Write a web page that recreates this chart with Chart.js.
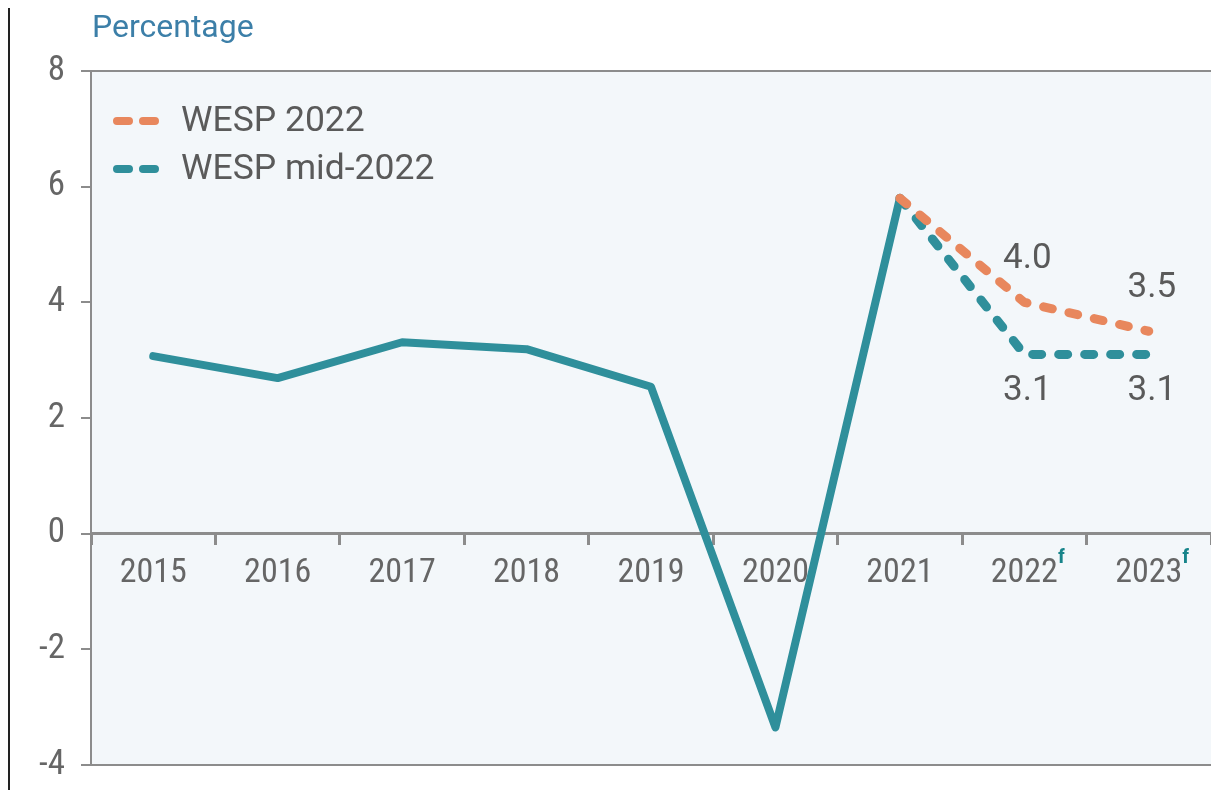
<!DOCTYPE html>
<html>
<head>
<meta charset="utf-8">
<script src="https://cdn.jsdelivr.net/npm/chart.js@4.4.1/dist/chart.umd.min.js"></script>
<style>
  html, body { margin: 0; padding: 0; background: #ffffff; }
  #wrap { position: relative; width: 1211px; height: 790px; overflow: hidden; }
  #edge { position: absolute; left: 8px; top: 8px; width: 2px; height: 782px; background: #222; z-index: 2; }
  canvas { position: absolute; left: 0; top: 0; }
</style>
</head>
<body>
<div id="wrap"><div id="edge"></div><canvas id="growth" width="1211" height="790"></canvas></div>
<script>
// Categories and series
const years = ['2015', '2016', '2017', '2018', '2019', '2020', '2021', '2022', '2023'];
const forecastYears = ['2022', '2023'];
const actualGrowth = [3.07, 2.69, 3.31, 3.19, 2.54, -3.35, 5.8, null, null];
const wesp2022 = [null, null, null, null, null, null, 5.8, 4.0, 3.5];
const wespMid2022 = [null, null, null, null, null, null, 5.8, 3.1, 3.1];
const labelledYears = ['2022', '2023'];
const yTicks = [-4, -2, 0, 2, 4, 6, 8];

const TEAL = '#2f8f9b';
const ORANGE = '#e8875d';
const AXIS_GREY = '#8c8c8c';
const TEXT_GREY = '#5a5a5a';
const CONDENSED = '"Roboto Condensed", "Liberation Sans Narrow", "DejaVu Sans Condensed", "Roboto", sans-serif';
const REGULAR = 'Roboto, "Liberation Sans", sans-serif';
const X_TICK_LEN = 10;
const X_TICK_PAD = 9;

// Light panel behind the plotting area
const panelFill = {
  id: 'panelFill',
  beforeDraw(chart) {
    const { ctx, chartArea: a } = chart;
    ctx.save();
    ctx.fillStyle = '#f3f7fa';
    ctx.fillRect(a.left, a.top, a.right - a.left, a.bottom - a.top);
    ctx.restore();
  }
};

// Unit caption above the value axis
const unitCaption = {
  id: 'unitCaption',
  afterDraw(chart) {
    const { ctx, chartArea: a } = chart;
    ctx.save();
    ctx.font = '32px ' + REGULAR;
    ctx.fillStyle = '#3c7fa8';
    ctx.textAlign = 'left';
    ctx.textBaseline = 'alphabetic';
    ctx.fillText('Percentage', a.left + 1, 37);
    ctx.restore();
  }
};

// Legend drawn inside the panel, top-left
const panelLegend = {
  id: 'panelLegend',
  afterDatasetsDraw(chart) {
    const { ctx } = chart;
    const entries = chart.data.datasets.filter(d => d.inLegend);
    ctx.save();
    entries.forEach((d, i) => {
      const y = 121 + i * 48;
      ctx.strokeStyle = d.borderColor;
      ctx.lineWidth = 8;
      ctx.lineCap = 'round';
      ctx.setLineDash([12, 14]);
      ctx.beginPath();
      ctx.moveTo(117, y);
      ctx.lineTo(160, y);
      ctx.stroke();
      ctx.setLineDash([]);
      ctx.font = '35.5px ' + REGULAR;
      ctx.fillStyle = TEXT_GREY;
      ctx.textAlign = 'left';
      ctx.textBaseline = 'middle';
      ctx.fillText(d.label, 181, y + 1);
    });
    ctx.restore();
  }
};

// Value labels on the forecast points
const pointValues = {
  id: 'pointValues',
  afterDatasetsDraw(chart) {
    const { ctx } = chart;
    ctx.save();
    ctx.font = '35px ' + REGULAR;
    ctx.fillStyle = TEXT_GREY;
    ctx.textAlign = 'center';
    ctx.textBaseline = 'middle';
    chart.data.datasets.forEach((d, di) => {
      if (!d.valueSide) return;
      const meta = chart.getDatasetMeta(di);
      d.data.forEach((v, i) => {
        if (v === null || !labelledYears.includes(years[i])) return;
        const pt = meta.data[i];
        const dy = d.valueSide === 'above' ? -43 : 37;
        ctx.fillText(v.toFixed(1), pt.x + 3, pt.y + dy);
      });
    });
    ctx.restore();
  }
};

// Superscript "f" after forecast year labels
const forecastMark = {
  id: 'forecastMark',
  afterDraw(chart) {
    const { ctx } = chart;
    const xs = chart.scales.x;
    const tickFont = xs.options.ticks.font;
    const axisY = chart.scales.y.getPixelForValue(0);
    const labelTop = axisY + X_TICK_LEN + X_TICK_PAD;
    ctx.save();
    years.forEach((yr, i) => {
      if (!forecastYears.includes(yr)) return;
      ctx.font = tickFont.size + 'px ' + tickFont.family;
      const w = ctx.measureText(yr).width;
      const cx = xs.getPixelForValue(i);
      ctx.font = 'bold 21px ' + CONDENSED;
      ctx.fillStyle = '#17848a';
      ctx.textAlign = 'left';
      ctx.textBaseline = 'top';
      ctx.fillText('f', cx + w / 2, labelTop - 5);
    });
    ctx.restore();
  }
};

new Chart(document.getElementById('growth'), {
  type: 'line',
  data: {
    labels: years,
    datasets: [
      {
        label: 'WESP 2022',
        data: wesp2022,
        borderColor: ORANGE,
        borderWidth: 9,
        borderDash: [9, 17],
        borderCapStyle: 'round',
        borderJoinStyle: 'round',
        pointRadius: 0,
        fill: false,
        inLegend: true,
        valueSide: 'above',
        order: 1
      },
      {
        label: 'WESP mid-2022',
        data: wespMid2022,
        borderColor: TEAL,
        borderWidth: 9,
        borderDash: [9, 17],
        borderCapStyle: 'round',
        borderJoinStyle: 'round',
        pointRadius: 0,
        fill: false,
        inLegend: true,
        valueSide: 'below',
        order: 2
      },
      {
        label: 'Growth',
        data: actualGrowth,
        borderColor: TEAL,
        borderWidth: 8,
        borderCapStyle: 'round',
        borderJoinStyle: 'round',
        pointRadius: 0,
        fill: false,
        inLegend: false,
        order: 3
      }
    ]
  },
  options: {
    responsive: false,
    animation: false,
    devicePixelRatio: 1,
    layout: { padding: { top: 71, bottom: 25, left: 0, right: 0 } },
    plugins: {
      legend: { display: false },
      tooltip: { enabled: false },
      title: { display: false }
    },
    scales: {
      x: {
        type: 'category',
        position: { y: 0 },
        offset: true,
        afterFit(scale) { scale.paddingLeft = 0; scale.paddingRight = 0; },
        border: { display: true, color: AXIS_GREY, width: 3 },
        grid: {
          display: true,
          offset: true,
          drawOnChartArea: false,
          drawTicks: true,
          tickLength: X_TICK_LEN,
          tickWidth: 3,
          tickColor: AXIS_GREY
        },
        ticks: {
          color: '#666666',
          padding: X_TICK_PAD,
          maxRotation: 0,
          autoSkip: false,
          font: { family: CONDENSED, size: 34 }
        }
      },
      y: {
        min: -4,
        max: 8,
        afterFit(scale) {
          scale.width = 91;
          scale.paddingTop = 0;
          scale.paddingBottom = 0;
        },
        afterBuildTicks(scale) { scale.ticks = yTicks.map(v => ({ value: v })); },
        border: { display: true, color: AXIS_GREY, width: 2 },
        grid: {
          drawTicks: true,
          tickLength: 10,
          tickColor: AXIS_GREY,
          tickWidth: 2,
          lineWidth: 2,
          color: ctx => (ctx.tick && (ctx.tick.value === 8 || ctx.tick.value === -4)) ? AXIS_GREY : 'rgba(0,0,0,0)'
        },
        ticks: {
          color: '#666666',
          padding: 16,
          font: { family: CONDENSED, size: 35 }
        }
      }
    }
  },
  plugins: [panelFill, unitCaption, panelLegend, pointValues, forecastMark]
});
</script>
</body>
</html>
